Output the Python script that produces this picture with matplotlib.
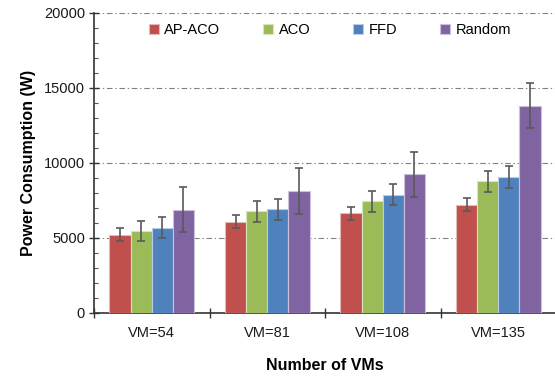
import matplotlib
matplotlib.use("Agg")
import matplotlib.pyplot as plt
import numpy as np
from matplotlib.ticker import MultipleLocator, FixedLocator

plt.rcParams['font.family'] = ['Liberation Sans', 'DejaVu Sans']

categories = ["VM=54", "VM=81", "VM=108", "VM=135"]
series_names = ["AP-ACO", "ACO", "FFD", "Random"]
ap_aco = [5200, 6060, 6620, 7200]
aco = [5440, 6750, 7420, 8760]
ffd = [5660, 6890, 7870, 9050]
random_ = [6870, 8140, 9230, 13820]
ap_aco_err = [420, 440, 420, 425]
aco_err = [690, 690, 690, 690]
ffd_err = [710, 715, 715, 715]
random_err = [1520, 1530, 1520, 1515]

values = [ap_aco, aco, ffd, random_]
errors = [ap_aco_err, aco_err, ffd_err, random_err]
colors = ["#C0504D", "#9BBB59", "#4F81BD", "#8064A2"]
edges = ["#E6B9B8", "#D7E4BD", "#B9CDE5", "#CCC1DA"]

W, H = 555, 376
fig = plt.figure(figsize=(W / 100, H / 100), dpi=100)
left, right, top, bottom = 94, 556, 13, 312.5
ax = fig.add_axes([left / W, (H - bottom) / H, (right - left) / W, (bottom - top) / H])

x = np.arange(len(categories))
bw = 0.183
offsets = (np.arange(4) - 1.5) * bw
for i in range(4):
    ax.bar(x + offsets[i], values[i], width=bw, color=colors[i], edgecolor=edges[i],
           linewidth=0.8, label=series_names[i], zorder=3)
    ax.errorbar(x + offsets[i], values[i], yerr=errors[i], fmt='none', ecolor='#595959',
                elinewidth=1.2, capsize=3, capthick=1.2, zorder=4)

ax.set_xlim(-0.5, 3.5)
ax.set_ylim(0, 20000)
ax.yaxis.set_minor_locator(MultipleLocator(1000))
ax.set_yticks([0, 5000, 10000, 15000, 20000])
ax.tick_params(axis='y', which='major', direction='inout', length=7, width=1, colors='#333333',
               labelcolor='#1a1a1a', labelsize=10.5, pad=3)
ax.tick_params(axis='y', which='minor', direction='in', length=3, width=0.8, colors='#555555')

ax.xaxis.set_major_locator(FixedLocator([-0.5, 0.5, 1.5, 2.5, 3.5]))
ax.xaxis.set_minor_locator(FixedLocator(list(x)))
ax.tick_params(axis='x', which='major', direction='inout', length=7, width=1, colors='#333333',
               labelbottom=False)
ax.tick_params(axis='x', which='minor', direction='in', length=3, width=1, colors='#333333')
for xi, lab in zip(x, categories):
    ax.text(xi, -1400, lab, ha='center', va='center', fontsize=10.5, color='#1a1a1a')

for g in [5000, 10000, 15000, 20000]:
    ax.axhline(g, color='#808080', linewidth=0.8, linestyle=(0, (5, 2.5, 1.2, 2.5)), zorder=1)

for s in ['top', 'right']:
    ax.spines[s].set_visible(False)
for s in ['left', 'bottom']:
    ax.spines[s].set_color('#333333')
    ax.spines[s].set_linewidth(1.2)

ax.set_ylabel("Power Consumption (W)", fontsize=11.5, fontweight='bold', labelpad=6)
ax.set_xlabel("Number of VMs", fontsize=11.5, fontweight='bold', labelpad=29)

ax.legend(loc='center', bbox_to_anchor=(0.511, 0.943), ncol=4, frameon=False,
          fontsize=10.5, handlelength=0.65, handleheight=0.65, handletextpad=0.4,
          columnspacing=2.95)

fig.savefig("out.png", dpi=100)
